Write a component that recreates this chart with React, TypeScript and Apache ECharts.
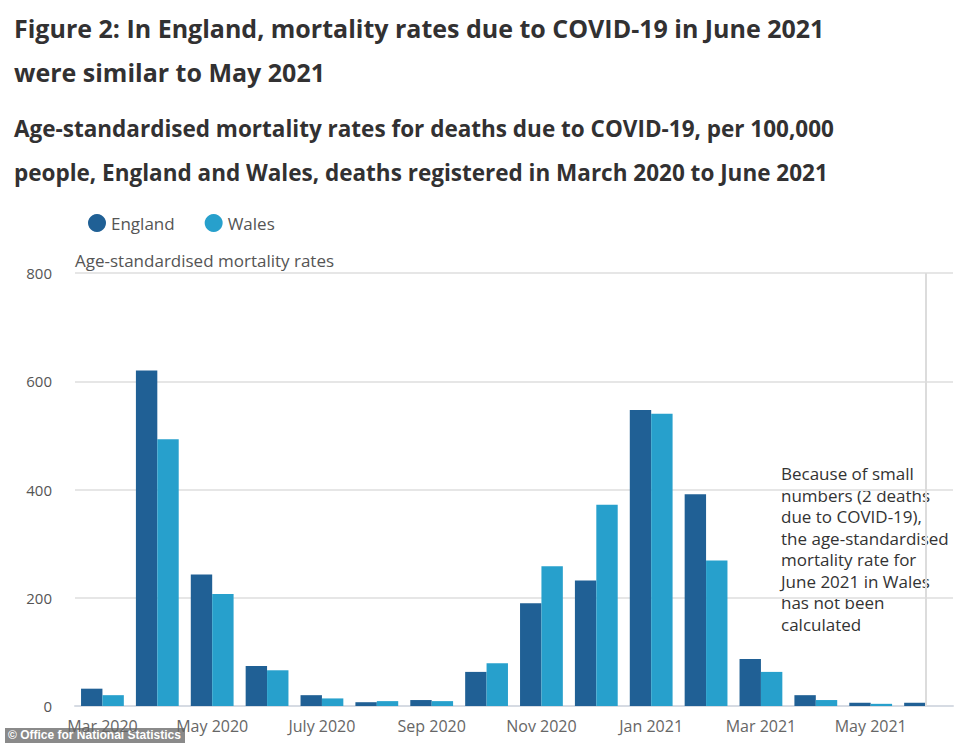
import { useEffect, useRef } from 'react'
import * as echarts from 'echarts'

const MONTHS = [
  'Mar 2020', 'Apr 2020', 'May 2020', 'June 2020', 'July 2020', 'Aug 2020',
  'Sep 2020', 'Oct 2020', 'Nov 2020', 'Dec 2020', 'Jan 2021', 'Feb 2021',
  'Mar 2021', 'Apr 2021', 'May 2021', 'June 2021',
]

const ENGLAND = [32, 620, 243, 74, 20, 7, 11, 63, 190, 232, 547, 391, 87, 20, 6, 6]
// June 2021 not calculated for Wales
const WALES = [20, 493, 207, 66, 14, 9, 9, 79, 258, 372, 540, 269, 63, 11, 4, null]

const Y_TICKS = { min: 0, max: 800, interval: 200 }

const NOTE_LINES = [
  'Because of small',
  'numbers (2 deaths',
  'due to COVID-19),',
  'the age-standardised',
  'mortality rate for',
  'June 2021 in Wales',
  'has not been',
  'calculated',
]

const FONT = '"Open Sans", "Noto Sans", sans-serif'

export default function App() {
  const chartRef = useRef<HTMLDivElement>(null)

  useEffect(() => {
    if (!chartRef.current) return
    document.body.style.margin = '0'
    const chart = echarts.init(chartRef.current, undefined, { renderer: 'svg' })

    const option: echarts.EChartsOption = {
      animation: false,
      backgroundColor: '#fff',
      textStyle: { fontFamily: FONT },
      title: [
        {
          text: 'Figure 2: In England, mortality rates due to COVID-19 in June 2021\nwere similar to May 2021',
          left: 14,
          top: 6,
          padding: 0,
          textStyle: { fontFamily: FONT, fontSize: 25, fontWeight: 'bold', color: '#323132', lineHeight: 44 },
        },
        {
          text: 'Age-standardised mortality rates for deaths due to COVID-19, per 100,000\npeople, England and Wales, deaths registered in March 2020 to June 2021',
          left: 14,
          top: 106,
          padding: 0,
          textStyle: { fontFamily: FONT, fontSize: 22.5, fontWeight: 'bold', color: '#323132', lineHeight: 44 },
        },
      ],
      legend: {
        data: ['England', 'Wales'],
        left: 83,
        top: 209,
        icon: 'circle',
        itemWidth: 18,
        itemHeight: 18,
        itemGap: 30,
        textStyle: { fontFamily: FONT, fontSize: 17, color: '#555' },
      },
      grid: { left: 75, right: 9, top: 273, bottom: 38 },
      xAxis: {
        type: 'category',
        data: MONTHS,
        axisLine: { lineStyle: { color: '#d6dbe3', width: 2 } },
        axisTick: { alignWithLabel: true, interval: 1, length: 13, lineStyle: { color: '#d6dbe3', width: 2 } },
        axisLabel: { interval: 1, fontFamily: FONT, fontSize: 16, color: '#666', margin: 12 },
      },
      yAxis: {
        type: 'value',
        ...Y_TICKS,
        name: 'Age-standardised mortality rates',
        nameLocation: 'end',
        nameGap: 13,
        nameTextStyle: { fontFamily: FONT, fontSize: 17, color: '#555', align: 'left', verticalAlign: 'middle' },
        axisLine: { show: false },
        axisTick: { show: false },
        axisLabel: { fontFamily: FONT, fontSize: 15, color: '#555', margin: 23 },
        splitLine: { lineStyle: { color: '#e6e6e6', width: 2 } },
      },
      series: [
        {
          name: 'England',
          type: 'bar',
          data: ENGLAND,
          barGap: '0%',
          barCategoryGap: '22%',
          itemStyle: { color: '#206095' },
        },
        {
          name: 'Wales',
          type: 'bar',
          data: WALES,
          itemStyle: { color: '#27a0cc' },
        },
        {
          // vertical marker at the June 2021 category centre
          name: 'marker',
          type: 'line',
          data: [],
          markLine: {
            silent: true,
            symbol: 'none',
            label: { show: false },
            lineStyle: { color: '#dcdcdc', width: 2, type: 'solid' },
            data: [{ xAxis: 'June 2021' }],
          },
        },
      ],
      graphic: [
        {
          type: 'text',
          left: 781,
          top: 463,
          style: {
            text: NOTE_LINES.join('\n'),
            font: `17px ${FONT}`,
            fill: '#333',
            lineHeight: 21.5,
          },
        },
        {
          type: 'rect',
          left: 5,
          top: 728,
          shape: { width: 180, height: 15 },
          style: { fill: '#8a8a8a' },
        },
        {
          type: 'text',
          left: 8,
          top: 729,
          style: {
            text: '© Office for National Statistics',
            font: `bold 12px "Liberation Sans", Arial, sans-serif`,
            fill: '#fff',
          },
        },
      ],
    }

    chart.setOption(option)
    return () => chart.dispose()
  }, [])

  return <div ref={chartRef} style={{ width: 962, height: 744 }} />
}
